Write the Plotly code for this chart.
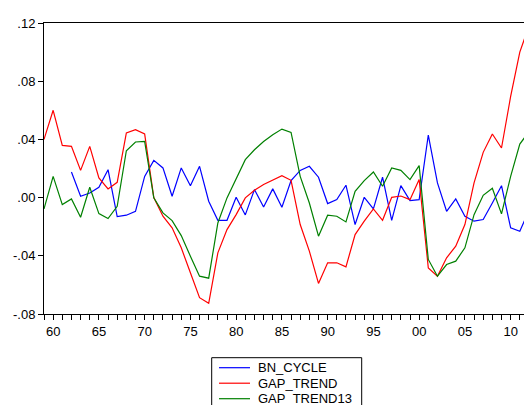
import plotly.graph_objects as go

# Annual observations, 1959-2012
years = list(range(1959, 2013))

bn_cycle = [None, None, None,
            0.0176, 0.0009, 0.0032, 0.0071, 0.0192, -0.0130, -0.0121, -0.0094,
            0.0146, 0.0256, 0.0204, 0.0009, 0.0204, 0.0082, 0.0215, -0.0025,
            -0.0156, -0.0156, 0.0002, -0.0119, 0.0055, -0.0064, 0.0060, -0.0066,
            0.0117, 0.0187, 0.0215, 0.0140, -0.0041, -0.0014, 0.0085, -0.0185,
            0.0002, -0.0078, 0.0140, -0.0156, 0.0082, -0.0020, -0.0014, 0.0430,
            0.0101, -0.0094, -0.0009, -0.0128, -0.0162, -0.0151, -0.0037, 0.0082,
            -0.0208, -0.0231, -0.0090]

gap_trend = [0.0400, 0.0600, 0.0359, 0.0352, 0.0187, 0.0352, 0.0135, 0.0060,
             0.0105, 0.0444, 0.0467, 0.0438, 0.0000, -0.0128, -0.0208, -0.0345,
             -0.0517, -0.0688, -0.0727, -0.0380, -0.0220, -0.0117, -0.0002, 0.0050,
             0.0090, 0.0119, 0.0151, 0.0119, -0.0185, -0.0368, -0.0590, -0.0448,
             -0.0448, -0.0476, -0.0254, -0.0162, -0.0078, -0.0156, 0.0002, 0.0011,
             -0.0014, 0.0124, -0.0483, -0.0540, -0.0414, -0.0334, -0.0185, 0.0101,
             0.0311, 0.0437, 0.0341, 0.0695, 0.1000, 0.1180]

gap_trend13 = [-0.0078, 0.0146, -0.0048, -0.0009, -0.0135, 0.0071, -0.0110, -0.0144,
               -0.0060, 0.0322, 0.0382, 0.0386, -0.0002, -0.0105, -0.0158, -0.0261,
               -0.0403, -0.0540, -0.0554, -0.0174, -0.0002, 0.0124, 0.0261, 0.0329,
               0.0385, 0.0432, 0.0471, 0.0448, 0.0146, -0.0037, -0.0265, -0.0121,
               -0.0128, -0.0167, 0.0043, 0.0117, 0.0176, 0.0078, 0.0204, 0.0187,
               0.0124, 0.0220, -0.0425, -0.0540, -0.0460, -0.0437, -0.0345, -0.0117,
               0.0016, 0.0064, -0.0112, 0.0146, 0.0368, 0.0453]

series_names = ["BN_CYCLE", "GAP_TREND", "GAP_TREND13"]
series_values = [bn_cycle, gap_trend, gap_trend13]
series_colors = ["#0000FF", "#FF0000", "#008000"]

x_tick_years = list(range(1960, 2011, 5))
x_tick_labels = ["60", "65", "70", "75", "80", "85", "90", "95", "00", "05", "10"]
y_tick_vals = [0.12, 0.08, 0.04, 0.00, -0.04, -0.08]
y_tick_labels = [".12", ".08", ".04", ".00", "-.04", "-.08"]

W, H = 524, 405
ML, MR, MT, MB = 44, 0, 23, 91
FONT = "Liberation Sans, Arial, sans-serif"

fig = go.Figure()
for name, vals, col in zip(series_names, series_values, series_colors):
    fig.add_trace(go.Scatter(x=years, y=vals, mode="lines", name=name,
                             line=dict(color=col, width=1.2),
                             connectgaps=False, showlegend=False))

# Pixel -> paper helpers for the boxed legend below the plot
pw, ph = W - ML - MR, H - MT - MB
def px(xp):
    return (xp - ML) / pw
def py(yp):
    return (H - MB - yp) / ph

shapes = [dict(type="rect", xref="paper", yref="paper",
               x0=px(211.7), x1=px(361.7), y0=py(430), y1=py(357.7),
               line=dict(color="black", width=1), fillcolor="white", layer="above")]
annotations = []
row_y = [367.7, 383.2, 398.7]
for name, col, ry in zip(series_names, series_colors, row_y):
    shapes.append(dict(type="line", xref="paper", yref="paper",
                       x0=px(219), x1=px(250), y0=py(ry), y1=py(ry),
                       line=dict(color=col, width=1.2)))
    annotations.append(dict(xref="paper", yref="paper", x=px(256), y=py(ry),
                            text=name, showarrow=False, xanchor="left", yanchor="middle",
                            font=dict(family=FONT, size=13, color="black")))

fig.update_layout(
    width=W, height=H,
    margin=dict(l=ML, r=MR, t=MT, b=MB, pad=0),
    paper_bgcolor="white", plot_bgcolor="white",
    font=dict(family=FONT, size=13, color="black"),
    shapes=shapes, annotations=annotations,
    xaxis=dict(range=[1959, 1959 + pw / 9.15], showgrid=False, zeroline=False,
               showline=True, linecolor="black", linewidth=1, mirror=True,
               ticks="outside", ticklen=5, tickcolor="black", tickwidth=1,
               tickvals=x_tick_years, ticktext=x_tick_labels,
               minor=dict(dtick=1, tick0=1959, ticks="outside", ticklen=5,
                          tickcolor="black", tickwidth=1, showgrid=False)),
    yaxis=dict(range=[-0.08, 0.12], showgrid=False, zeroline=False,
               showline=True, linecolor="black", linewidth=1,
               ticks="outside", ticklen=5, tickcolor="black", tickwidth=1,
               tickvals=y_tick_vals, ticktext=y_tick_labels),
)

fig.write_html("out.html")
